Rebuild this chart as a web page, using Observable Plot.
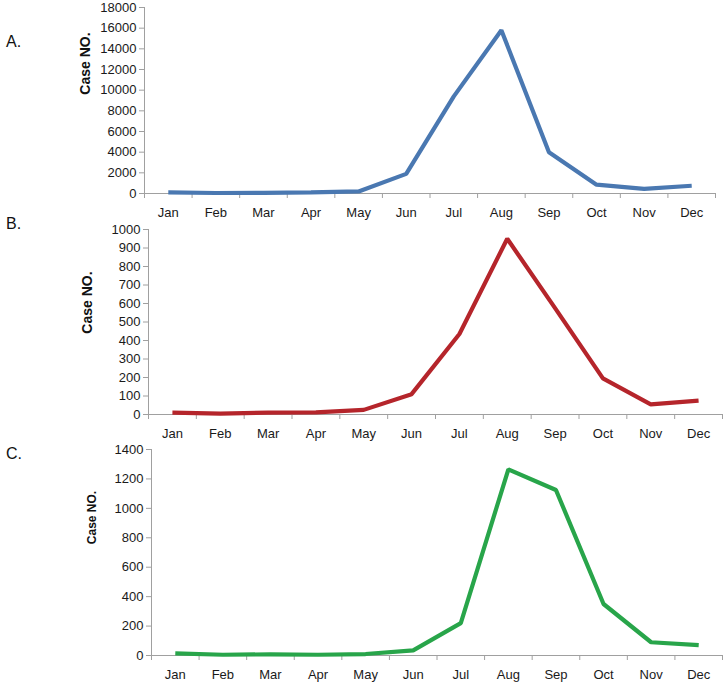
<!DOCTYPE html>
<html>
<head>
<meta charset="utf-8">
<script src="https://cdn.jsdelivr.net/npm/d3@7"></script>
<script src="https://cdn.jsdelivr.net/npm/@observablehq/plot@0.6"></script>
<style>
  body { margin: 0; background: #fff; font-family: "Liberation Sans", Arial, sans-serif; }
  #wrap { position: relative; width: 725px; height: 685px; }
  .panel { position: absolute; left: 0; }
  .letter { position: absolute; left: 6px; font-size: 16px; color: #111; font-family: "Liberation Sans", Arial, sans-serif; }
</style>
</head>
<body>
<div id="wrap"></div>
<script>
const months = ["Jan","Feb","Mar","Apr","May","Jun","Jul","Aug","Sep","Oct","Nov","Dec"];
const seriesA = [100, 50, 60, 100, 200, 1900, 9400, 15800, 4000, 850, 450, 750];
const seriesB = [10, 5, 10, 12, 25, 110, 435, 950, 575, 195, 55, 75];
const seriesC = [15, 5, 8, 5, 10, 35, 220, 1265, 1125, 350, 90, 70];
const yTicksA = [0, 2000, 4000, 6000, 8000, 10000, 12000, 14000, 16000, 18000];
const yTicksB = [0, 100, 200, 300, 400, 500, 600, 700, 800, 900, 1000];
const yTicksC = [0, 200, 400, 600, 800, 1000, 1200, 1400];
const panelLetters = ["A.", "B.", "C."];
const yLabel = "Case NO.";

const panels = [
  {letter: panelLetters[0], values: seriesA, ticks: yTicksA, max: 18000, color: "#4a78b1",
   top: 0, height: 221, mt: 7, mb: 28, ml: 144, mr: 10, letterTop: 33,
   labelDx: -59, labelDy: 56, labelSize: 14},
  {letter: panelLetters[1], values: seriesB, ticks: yTicksB, max: 1000, color: "#b5252b",
   top: 221, height: 220, mt: 8, mb: 27, ml: 148, mr: 3, letterTop: 215,
   labelDx: -61, labelDy: 73, labelSize: 14},
  {letter: panelLetters[2], values: seriesC, ticks: yTicksC, max: 1400, color: "#28a54a",
   top: 441, height: 244, mt: 8, mb: 30, ml: 151, mr: 3, letterTop: 445,
   labelDx: -59, labelDy: 68, labelSize: 12}
];

const wrap = document.getElementById("wrap");
const boundaries = d3.range(0, 13);
const centers = months.map((m, i) => i + 0.5);

for (const p of panels) {
  const data = months.map((m, i) => ({month: m, x: i + 0.5, y: p.values[i]}));
  const chart = Plot.plot({
    width: 725,
    height: p.height,
    marginTop: p.mt,
    marginBottom: p.mb,
    marginLeft: p.ml,
    marginRight: p.mr,
    style: {fontFamily: "'Liberation Sans', Arial, sans-serif", fontSize: "13px", background: "#fff"},
    x: {domain: [0, 12], axis: null},
    y: {domain: [0, p.max], axis: null},
    marks: [
      Plot.ruleY([0], {stroke: "#a0a0a0", strokeWidth: 1}),
      Plot.ruleX([0], {stroke: "#a0a0a0", strokeWidth: 1}),
      Plot.axisY({ticks: p.ticks, tickSize: 5, tickPadding: 3, stroke: "#a0a0a0", fill: "#1a1a1a", fontSize: 13, label: null, tickFormat: d => String(d)}),
      Plot.axisX({ticks: boundaries, tickSize: 5, tickFormat: () => "", stroke: "#a0a0a0", label: null}),
      Plot.axisX({ticks: centers, tickSize: 0, tickPadding: 14, tickFormat: d => months[Math.round(d - 0.5)], fill: "#1a1a1a", fontSize: 13, label: null}),
      Plot.line(data, {x: "x", y: "y", stroke: p.color, strokeWidth: 4.2, strokeLinejoin: "miter", strokeLinecap: "butt"}),
      Plot.text([yLabel], {frameAnchor: "top-left", textAnchor: "middle", lineAnchor: "middle", dx: p.labelDx, dy: p.labelDy, rotate: -90, text: d => d, fontWeight: "bold", fontSize: p.labelSize, fill: "#111"})
    ]
  });
  const div = document.createElement("div");
  div.className = "panel";
  div.style.top = p.top + "px";
  div.appendChild(chart);
  wrap.appendChild(div);
  const letter = document.createElement("div");
  letter.className = "letter";
  letter.style.top = p.letterTop + "px";
  letter.textContent = p.letter;
  wrap.appendChild(letter);
}
</script>
</body>
</html>
